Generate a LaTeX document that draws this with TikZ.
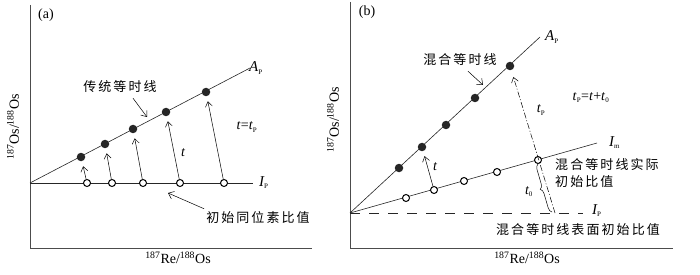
\documentclass[tikz,border=0pt]{standalone}
\usepackage{fontspec}
\setmainfont{Liberation Serif}
\newfontfamily\cjk[LetterSpace=16]{Noto Sans CJK SC}
\usetikzlibrary{arrows.meta,decorations.pathreplacing}
\tikzset{
  axis/.style={line width=0.9pt, black!70},
  iso/.style={line width=0.6pt, black!85},
  dot/.style={circle, fill=black!85, inner sep=0pt, minimum size=8.5pt},
  ring/.style={circle, draw, line width=1pt, fill=white, inner sep=0pt, minimum size=7pt},
  growth/.style={-{Straight Barb[length=5pt,width=7pt]}, line width=0.5pt, shorten >=5pt},
  pointer/.style={-{Straight Barb[length=5pt,width=8pt]}, line width=0.5pt},
  zh/.style={font=\fontsize{13}{17}\cjk, inner sep=0pt},
  ital/.style={font=\fontsize{15}{17}\selectfont\itshape, inner sep=0pt},
  small/.style={font=\fontsize{14}{16}\selectfont\itshape, inner sep=0pt},
}
\newcommand{\ratio}[2]{\textsuperscript{187}#1/\textsuperscript{188}#2}
\begin{document}
\begin{tikzpicture}[x=1pt, y=-1pt, every node/.style={font=\fontsize{14}{16}\selectfont}]
  \useasboundingbox (0,0) rectangle (700,275);
  % (a) conventional isochron
  \begin{scope}
    \draw[axis] (30,5) -- (30,248) -- (312,248);
    \node at (46,15) (aTag) {(a)};
    \node[rotate=90] at (13,127) (aY) {\ratio{Os}{Os}};
    \node at (178,258) (aX) {\ratio{Re}{Os}};
    \coordinate (aO) at (30,183);
    \coordinate (aA) at (250,68);
    \coordinate (aI) at (253,183);
    \draw[iso] (aO) -- (aA);
    \draw[iso] (aO) -- (aI);
    \node[ital, anchor=west] at ([xshift=-1pt]aA) (aAP) {A\textsubscript{\upshape\scriptsize P}};
    \node[ital, anchor=west] at ([xshift=6pt]aI) (aIP) {I\textsubscript{\upshape\scriptsize P}};
    \foreach \n/\dx/\dy/\ox in {1/81/157/87, 2/105/144/112, 3/133/129/143, 4/166/112/180, 5/206/92/224} {
      \node[dot] at (\dx,\dy) (ad\n) {};
      \node[ring] at (\ox,183) (ao\n) {};
      \draw[growth] (ao\n) -- (ad\n);
    }
    \node[small] at (183,153) (at) {t};
    \node[small, font=\fontsize{14}{16}\selectfont] at (247,127) (aEq) {\textit{t}=\textit{t}\textsubscript{\scriptsize P}};
    \node[zh] at (120,87) (aIso) {传统等时线};
    \coordinate (aIsoTip) at (147,117);
    \draw[pointer] ([xshift=13pt,yshift=-5pt]aIso.south) -- (aIsoTip);
    \node[zh] at (258,218) (aInit) {初始同位素比值};
    \coordinate (aInitTip) at (168,193);
    \draw[pointer] ([xshift=-2pt,yshift=3pt]aInit.north west) -- (aInitTip);
  \end{scope}
  % (b) mixing isochron
  \begin{scope}
    \draw[axis] (350,2) -- (350,248) -- (673,248);
    \node at (367,12) (bTag) {(b)};
    \node[rotate=90] at (333,120) (bY) {\ratio{Os}{Os}};
    \node at (527,258) (bX) {\ratio{Re}{Os}};
    \coordinate (bO) at (350,213);
    \coordinate (bA) at (540,37);
    \coordinate (bM) at (597,143);
    \coordinate (bI) at (583,213);
    \draw[iso] (bO) -- (bA);
    \draw[iso] (bO) -- (bM);
    \draw[iso, dash pattern=on 10pt off 9pt] (bO) -- (bI);
    \node[ital, anchor=west] at ([xshift=5pt]bA) (bAP) {A\textsubscript{\upshape\scriptsize P}};
    \node[ital, anchor=west] at ([xshift=12pt]bM) (bIm) {I\textsubscript{\upshape\scriptsize m}};
    \node[ital, anchor=west] at ([xshift=9pt,yshift=2pt]bI) (bIP) {I\textsubscript{\upshape\scriptsize P}};
    \foreach \n/\dx/\dy/\ox/\oy in {1/399/168/406/198, 2/422/147/434/190, 3/446/125/464/181, 4/475/98/497/172, 5/510/66/538/160} {
      \node[dot] at (\dx,\dy) (bd\n) {};
      \node[ring] at (\ox,\oy) (bo\n) {};
    }
    \draw[growth] (bo2) -- (bd2);
    \node[small] at (435,167) (bt) {t};
    \coordinate (bBase) at (555,213);
    \draw[growth, shorten >=7pt, dash pattern=on 6pt off 2pt on 1pt off 2pt] (bBase) -- (bd5);
    \coordinate (bBr) at (552,212);
    \draw[line width=0.5pt, decorate, decoration={brace, amplitude=5pt}] (bBr) -- (bo5.south);
    \node[small] at (529,192) (bt0) {t\textsubscript{\upshape\scriptsize 0}};
    \node[small] at (541,110) (btP) {t\textsubscript{\upshape\scriptsize P}};
    \node[small, font=\fontsize{14}{16}\selectfont] at (591,98) (bEq) {\textit{t}\textsubscript{\scriptsize P}=\textit{t}+\textit{t}\textsubscript{\scriptsize 0}};
    \node[zh] at (460,60) (bIso) {混合等时线};
    \coordinate (bIsoTip) at (483,85);
    \draw[pointer] ([xshift=8pt,yshift=-5pt]bIso.south) -- (bIsoTip);
    \node[zh, anchor=west, align=left] at (555,173.5) (bReal) {混合等时线实际\\初始比值};
    \node[zh] at (578,230) (bFace) {混合等时线表面初始比值};
  \end{scope}
\end{tikzpicture}
\end{document}
